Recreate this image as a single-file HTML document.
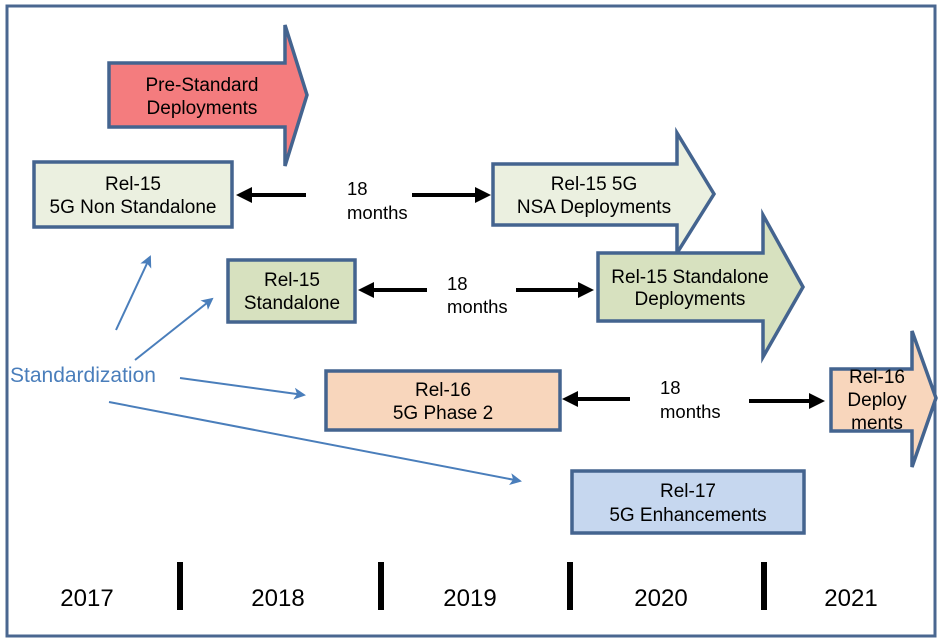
<!DOCTYPE html>
<html><head><meta charset="utf-8"><style>
html,body{margin:0;padding:0;background:#fff;}
svg{display:block;}
text{font-family:"Liberation Sans",Arial,sans-serif;}
</style></head><body>
<svg width="940" height="641" viewBox="0 0 940 641">
<defs>
<marker id="bk" markerWidth="4" markerHeight="4" refX="3" refY="2" orient="auto" markerUnits="strokeWidth"><path d="M0,0 L4,2 L0,4 Z" fill="#000"/></marker>
<marker id="bl" markerWidth="6" markerHeight="6" refX="5" refY="3" orient="auto" markerUnits="strokeWidth"><path d="M0,0 L6,3 L0,6 L1.5,3 Z" fill="#4a7ebb"/></marker>
</defs>
<rect x="7" y="6" width="928" height="630" fill="#fff" stroke="#4a6790" stroke-width="3"/>
<g stroke="#44648f" stroke-width="3.5" stroke-linejoin="miter">
<path d="M109,63 H285 V25 L307,95 L285,166 V127 H109 Z" fill="#f47c7e"/>
<rect x="34" y="162" width="198" height="65" fill="#ebf0e0"/>
<path d="M493,164 H677 V133 L714,194 L677,253 V225 H493 Z" fill="#ebf0e0"/>
<path d="M598,253 H763 V215 L803,287 L763,357 V321 H598 Z" fill="#d7e1bf"/>
<rect x="228" y="260" width="127" height="62" fill="#d7e1bf"/>
<rect x="326" y="371" width="234" height="59" fill="#f8d6bc"/>
<path d="M831,369 H912 V331 L936,398 L912,467 V431 H831 Z" fill="#f8d6bc"/>
<rect x="572" y="471" width="232" height="62" fill="#c6d7ef"/>
</g>
<g font-size="19" fill="#000" text-anchor="middle">
<text x="202" y="91">Pre-Standard</text><text x="202" y="114">Deployments</text>
<text x="133" y="190">Rel-15</text><text x="133" y="213">5G Non Standalone</text>
<text x="594" y="190">Rel-15 5G</text><text x="594" y="213">NSA Deployments</text>
<text x="292" y="286">Rel-15</text><text x="292" y="309">Standalone</text>
<text x="690" y="283">Rel-15 Standalone</text><text x="690" y="305">Deployments</text>
<text x="443" y="396">Rel-16</text><text x="443" y="419">5G Phase 2</text>
<text x="877" y="383">Rel-16</text><text x="877" y="406">Deploy</text><text x="877" y="429">ments</text>
<text x="688" y="497">Rel-17</text><text x="688" y="521">5G Enhancements</text>
</g>
<g font-size="18.5" fill="#000">
<text x="347" y="195">18</text><text x="347" y="219">months</text>
<text x="447" y="290">18</text><text x="447" y="313">months</text>
<text x="660" y="394">18</text><text x="660" y="418">months</text>
</g>
<g stroke="#000" stroke-width="4" fill="none">
<line x1="306" y1="195" x2="240" y2="195" marker-end="url(#bk)"/>
<line x1="412" y1="195" x2="487" y2="195" marker-end="url(#bk)"/>
<line x1="427" y1="290" x2="362" y2="290" marker-end="url(#bk)"/>
<line x1="516" y1="290" x2="590" y2="290" marker-end="url(#bk)"/>
<line x1="630" y1="399" x2="566" y2="399" marker-end="url(#bk)"/>
<line x1="749" y1="401" x2="821" y2="401" marker-end="url(#bk)"/>
</g>
<text x="10" y="382" font-size="21" fill="#4a7ebb">Standardization</text>
<g stroke="#4a7ebb" stroke-width="2" fill="none">
<line x1="116" y1="330" x2="150" y2="257" marker-end="url(#bl)"/>
<line x1="135" y1="360" x2="212" y2="299" marker-end="url(#bl)"/>
<line x1="180" y1="378" x2="304" y2="395" marker-end="url(#bl)"/>
<line x1="109" y1="402" x2="520" y2="481" marker-end="url(#bl)"/>
</g>
<g fill="#000">
<rect x="177" y="562" width="6" height="48"/>
<rect x="378" y="562" width="6" height="48"/>
<rect x="567" y="562" width="6" height="48"/>
<rect x="761" y="562" width="6" height="48"/>
</g>
<g font-size="24" fill="#000" text-anchor="middle">
<text x="87" y="606">2017</text><text x="278" y="606">2018</text><text x="470" y="606">2019</text><text x="661" y="606">2020</text><text x="851" y="606">2021</text>
</g>
</svg>
</body></html>
